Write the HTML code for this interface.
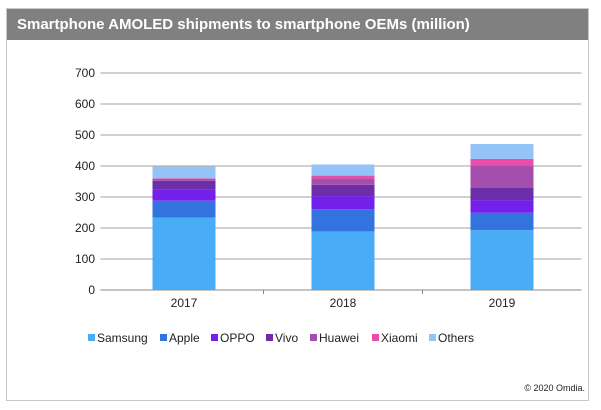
<!DOCTYPE html>
<html><head><meta charset="utf-8"><style>
body{margin:0;width:601px;height:410px;background:#fff;font-family:"Liberation Sans",Arial,sans-serif;position:relative;overflow:hidden}
#frame{position:absolute;left:6px;top:8px;width:583px;height:393px;border:1px solid #c8c8c8;box-sizing:border-box}
#title{position:absolute;left:7px;top:9px;width:581px;height:31px;background:#808080;color:#fff;font-weight:bold;font-size:15px;line-height:31px;padding-left:10px;box-sizing:border-box}
#copy{position:absolute;right:16px;top:383px;font-size:9px;color:#222}
</style></head><body>
<div id="frame"></div>
<div id="title">Smartphone AMOLED shipments to smartphone OEMs (million)</div>
<svg id="chart" width="601" height="410" style="position:absolute;left:0;top:0"></svg>
<div id="copy">© 2020 Omdia.</div>
<script>
const categories=["2017","2018","2019"];
const seriesNames=["Samsung","Apple","OPPO","Vivo","Huawei","Xiaomi","Others"];
const samsung=[234,189,193];
const apple=[54,72,56];
const oppo=[35,42,41];
const vivo=[29,36,39];
const huawei=[6,21,72];
const xiaomi=[2,9,22];
const others=[38,36,48];
const yTicks=[0,100,200,300,400,500,600,700];
const colors=["#48acf7","#3373e0","#7320ea","#6b2ea8","#a44fac","#ea4ca9","#94c4f7"];
const series=[samsung,apple,oppo,vivo,huawei,xiaomi,others];
const svg=document.getElementById('chart');const NS="http://www.w3.org/2000/svg";
const L=104.5,R=581.5,Y0=290,Y1=73;
const y=v=>Y0-(v/700)*(Y0-Y1);
const bw=(R-L)/categories.length;
const xc=i=>L+bw*(i+0.5);
function mk(t,a){const e=document.createElementNS(NS,t);for(const k in a)e.setAttribute(k,a[k]);svg.appendChild(e);return e;}
yTicks.forEach(t=>{
 const g=mk('line',{x1:L-4,x2:R,y1:y(t),y2:y(t),stroke:t===0?'#888':'#a0a0a0','stroke-width':1});
 
 
 const tx=mk('text',{x:95,y:y(t)+4,'text-anchor':'end','font-size':12,fill:'#222','font-family':'Liberation Sans, sans-serif'});
 tx.textContent=t;
 
 
});
categories.forEach((c,i)=>{
 let cum=0;
 series.forEach((s,j)=>{
  const r=mk('rect',{x:xc(i)-31.5,width:63,y:y(cum+s[i]),height:y(cum)-y(cum+s[i]),fill:colors[j]});
  
  
  cum+=s[i];
 });
 const tx=mk('text',{x:xc(i),y:307,'text-anchor':'middle','font-size':12,fill:'#222','font-family':'Liberation Sans, sans-serif'});
 tx.textContent=c;
 
 
 if(i>0){const tk=mk('line',{x1:L+bw*i,x2:L+bw*i,y1:Y0,y2:Y0+4,stroke:'#888'});
 
 }
});
const lx=[88,160,211,266,310,372,429];
seriesNames.forEach((n,j)=>{
 const r=mk('rect',{x:lx[j],y:334,width:7,height:7,fill:colors[j]});
 
 
 const t=mk('text',{x:lx[j]+9,y:342,'font-size':12,fill:'#222','font-family':'Liberation Sans, sans-serif'});
 t.textContent=n;
 
 
});
</script>
</body></html>
